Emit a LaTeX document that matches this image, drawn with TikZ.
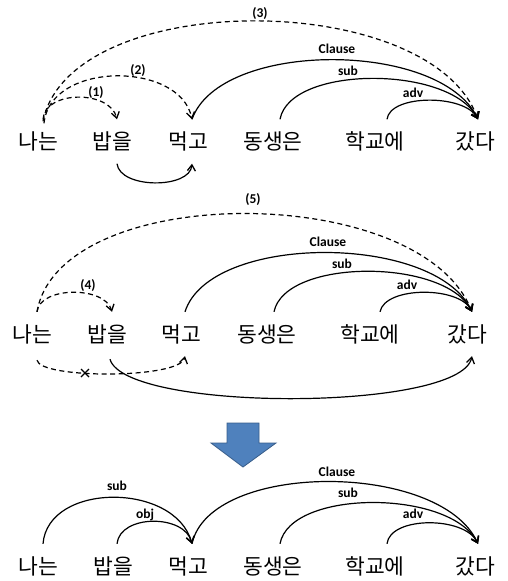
\documentclass[tikz,border=0pt]{standalone}
\usepackage{fontspec}
\newfontfamily\kr{Noto Sans CJK KR}
\newfontfamily\lab{Carlito}
\usetikzlibrary{arrows.meta}
\definecolor{arrowblue}{HTML}{4F81BD}
\definecolor{arrowedge}{HTML}{385D8A}
\tikzset{
  word/.style={inner sep=0pt, minimum height=44pt, font=\kr\fontsize{21.5}{21.5}\selectfont},
  lbl/.style={inner sep=0pt, font=\lab\bfseries\fontsize{13.5}{13.5}\selectfont},
  dep/.style={line width=1.2pt, -{Straight Barb[length=6pt,width=8pt,line width=1.3pt]}},
  dashdep/.style={dep, dash pattern=on 5pt off 3.5pt},
}
\begin{document}
\begin{tikzpicture}[x=1pt,y=-1pt]
\useasboundingbox (0,0) rectangle (507,581);
% ---------- Row 1 ----------
\node[word] (a1) at (38,141.5) {나는};
\node[word] (a2) at (112,141.5) {밥을};
\node[word] (a3) at (188,141.5) {먹고};
\node[word] (a4) at (273,141.5) {동생은};
\node[word] (a5) at (375,141.5) {학교에};
\node[word] (a6) at (475,141.5) {갔다};
\draw[dashdep] ([xshift=5pt]a1.north) .. controls (45,90) and (110,90) .. ([xshift=5pt]a2.north);
\draw[dashdep] ([xshift=6pt,yshift=-4pt]a1.north) .. controls (50,61) and (180,61) .. ([xshift=4pt]a3.north);
\draw[dashdep] ([xshift=5pt,yshift=-2pt]a1.north) .. controls (70,-12) and (430,-12) .. ([xshift=3pt]a6.north);
\draw[dep] ([xshift=4pt]a3.north) .. controls (220,40) and (440,40) .. ([xshift=3pt]a6.north);
\draw[dep] ([xshift=7pt]a4.north) .. controls (290,65) and (450,65) .. ([xshift=3pt]a6.north);
\draw[dep] ([xshift=12pt]a5.north) .. controls (390,94) and (465,94) .. ([xshift=3pt]a6.north);
\draw[dep] ([xshift=5pt]a2.south) .. controls (120,189) and (190,189) .. ([xshift=4pt]a3.south);
\node[lbl] (l1) at (96,93) {(1)};
\node[lbl] (l2) at (138,71) {(2)};
\node[lbl] (l3) at (260,14) {(3)};
\node[lbl] (l4) at (337,49) {Clause};
\node[lbl] (l5) at (348,71) {sub};
\node[lbl] (l6) at (413,93) {adv};
% ---------- Row 2 ----------
\node[word] (b1) at (32,334) {나는};
\node[word] (b2) at (107,334) {밥을};
\node[word] (b3) at (181,334) {먹고};
\node[word] (b4) at (267,334) {동생은};
\node[word] (b5) at (370,334) {학교에};
\node[word] (b6) at (467,334) {갔다};
\draw[dashdep] ([xshift=5pt]b1.north) .. controls (40,286) and (105,286) .. ([xshift=5pt]b2.north);
\draw[dashdep] ([xshift=5pt]b1.north) .. controls (60,181) and (420,181) .. ([xshift=5pt]b6.north);
\draw[dep] ([xshift=4pt]b3.north) .. controls (210,233) and (435,233) .. ([xshift=5pt]b6.north);
\draw[dep] ([xshift=7pt]b4.north) .. controls (285,258) and (445,258) .. ([xshift=5pt]b6.north);
\draw[dep] ([xshift=10pt]b5.north) .. controls (385,286) and (460,286) .. ([xshift=5pt]b6.north);
\draw[dashdep] ([xshift=5pt,yshift=-4pt]b1.south) .. controls (40,379) and (180,379) .. ([xshift=4pt]b3.south);
\draw[dep] ([xshift=3pt,yshift=-3pt]b2.south) .. controls (125,412) and (460,412) .. ([xshift=5pt]b6.south);
\coordinate (xm) at (85,373);
\draw[line width=1.1pt] ([shift={(-4,-4)}]xm) -- ([shift={(4,4)}]xm)
                      ([shift={(-4,4)}]xm) -- ([shift={(4,-4)}]xm);
\node[lbl] (m1) at (88,286) {(4)};
\node[lbl] (m2) at (253,200) {(5)};
\node[lbl] (m3) at (328,242) {Clause};
\node[lbl] (m4) at (342,264) {sub};
\node[lbl] (m5) at (407,285) {adv};
% ---------- Blue arrow ----------
\draw[fill=arrowblue, draw=arrowedge, line width=0.8pt]
  (227,423) -- (259,423) -- (259,443) -- (276,443) -- (243,467) -- (211,443) -- (227,443) -- cycle;
% ---------- Row 3 ----------
\node[word] (c1) at (38,566) {나는};
\node[word] (c2) at (113,566) {밥을};
\node[word] (c3) at (188,566) {먹고};
\node[word] (c4) at (273,566) {동생은};
\node[word] (c5) at (375,566) {학교에};
\node[word] (c6) at (475,566) {갔다};
\draw[dep] ([xshift=5pt]c1.north) .. controls (48,482) and (175,482) .. ([xshift=4pt]c3.north);
\draw[dep] ([xshift=4pt]c2.north) .. controls (120,514) and (185,514) .. ([xshift=4pt]c3.north);
\draw[dep] ([xshift=4pt]c3.north) .. controls (210,461) and (440,461) .. ([xshift=3pt]c6.north);
\draw[dep] ([xshift=7pt]c4.north) .. controls (290,489) and (450,489) .. ([xshift=3pt]c6.north);
\draw[dep] ([xshift=12pt]c5.north) .. controls (390,516) and (465,516) .. ([xshift=3pt]c6.north);
\node[lbl] (n1) at (117,486) {sub};
\node[lbl] (n2) at (145,515) {obj};
\node[lbl] (n3) at (337,472) {Clause};
\node[lbl] (n4) at (348,493) {sub};
\node[lbl] (n5) at (413,514) {adv};
\end{tikzpicture}
\end{document}
